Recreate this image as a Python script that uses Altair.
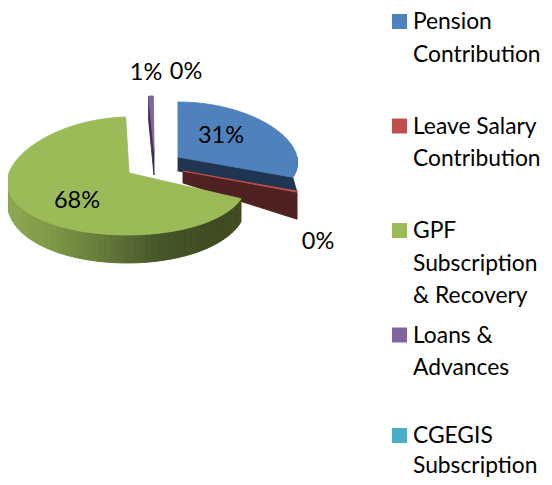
import math
import altair as alt
import pandas as pd

categories = ["Pension Contribution", "Leave Salary Contribution", "GPF Subscription & Recovery", "Loans & Advances", "CGEGIS Subscription"]
values = [31.0, 0.3, 67.9, 0.7, 0.1]
legend_lines = [["Pension", "Contribution"], ["Leave Salary", "Contribution"], ["GPF", "Subscription", "& Recovery"], ["Loans &", "Advances"], ["CGEGIS", "Subscription"]]
top_colors = ["#4F81BD", "#C0504D", "#9BBB59", "#8064A2", "#4BACC6"]
dark_colors = ["#1F3552", "#4F2120", "#3D4A20", "#3A2D4D", "#1F5563"]
wall_ramp = ["#3F4C20", "#3F4C20", "#46552A", "#657C3A", "#7F9A48", "#8AA650", "#8CA853"]

W, H = 536, 469
OFF = 8
K = 0.1
centers = [(178, 157), (183, 171), (127, 176), (154, 151), (179, 157)]
radii = [(119, 55), (119, 55), (119, 59), (119, 55), (119, 55)]
top_shift = [0, 0, 4, 0, 0]
apex_shift = [(0, 0), (0, 0), (2, -3), (0, 0), (0, 0)]
label_pos = [(221, 136), (318, 242), (77, 201), (146, 73), (186, 72)]
legend_row_y = [22, 126.5, 231, 335.5, 436]
legend_line_gap = [32.5, 32.5, 32.5, 32.5, 30]


def rim(i, deg, drop=0.0):
    cx, cy = centers[i]
    rx, ry = radii[i]
    t = math.radians(deg)
    f = 1 - K * math.cos(t)
    return [cx + rx * math.sin(t) * f + top_shift[i] * max(0.0, math.cos(t)) - OFF,
            cy - ry * math.cos(t) + drop - OFF]


def apex(i, drop=0.0):
    return [centers[i][0] + apex_shift[i][0] - OFF, centers[i][1] + apex_shift[i][1] + drop - OFF]


def feature(points, color):
    return {"type": "Feature", "properties": {"c": color},
            "geometry": {"type": "Polygon", "coordinates": [points + [points[0]]]}}


def lerp_hex(a, b, f):
    pa = [int(a[j:j + 2], 16) for j in (1, 3, 5)]
    pb = [int(b[j:j + 2], 16) for j in (1, 3, 5)]
    return "#" + "".join(f"{round(x + (y - x) * f):02X}" for x, y in zip(pa, pb))


angles = [0.0]
for v in values:
    angles.append(angles[-1] + v * 3.6)
starts = dict(enumerate(angles[:-1]))
ends = dict(enumerate(angles[1:]))


def arc(i, n=80):
    a, b = starts[i], ends[i]
    return [rim(i, a + (b - a) * k / n) for k in range(n + 1)]


features = []
features.append(feature([apex(4)] + arc(4, 4), top_colors[4]))
e = ends[0]
blue_wall = [apex(0), apex(0, 14)]
blue_wall += [[rim(0, e)[0] + 4, rim(0, e)[1] + 14]]
blue_wall += [rim(0, e - 3 * k) for k in range(0, 8)]
features.append(feature(blue_wall, dark_colors[0]))
features.append(feature([apex(0)] + arc(0), top_colors[0]))
s1, e1 = starts[1], ends[1]
features.append(feature([apex(1), rim(1, e1), rim(1, e1, 27), apex(1, 12)], dark_colors[1]))
features.append(feature([apex(1)] + arc(1, 3), top_colors[1]))
s3, e3 = starts[3], ends[3]
features.append(feature([rim(3, s3), rim(3, s3, 24), apex(3, 24), apex(3)], dark_colors[3]))
features.append(feature([apex(3)] + arc(3, 4), top_colors[3]))
s2, e2 = starts[2], ends[2]
a0, a1 = s2, 268.0
N = 60
for k in range(N):
    t0 = a0 + (a1 - a0) * k / N
    t1 = a0 + (a1 - a0) * (k + 1) / N
    d0 = 20 + 8 * max(0, -math.cos(math.radians(t0)))
    d1 = 20 + 8 * max(0, -math.cos(math.radians(t1)))
    pos = k / N * (len(wall_ramp) - 1)
    j = min(int(pos), len(wall_ramp) - 2)
    col = lerp_hex(wall_ramp[j], wall_ramp[j + 1], pos - j)
    features.append(feature([rim(2, t0), rim(2, t1), rim(2, t1, d1), rim(2, t0, d0)], col))
features.append(feature([apex(2)] + arc(2, 160), top_colors[2]))

pie = alt.Chart(alt.Data(values=features)).mark_geoshape(strokeWidth=0.9).encode(
    color=alt.Color("properties.c:N", scale=None),
    stroke=alt.Color("properties.c:N", scale=None),
).project(type="identity", scale=1, translate=[0, 0])

x_s = alt.Scale(domain=[0, W], range=[0, W])
y_s = alt.Scale(domain=[0, H], range=[0, H])
X = lambda f: alt.X(f, scale=x_s, axis=None)
Y = lambda f: alt.Y(f, scale=y_s, axis=None)

FONT = "Lato"

lab = pd.DataFrame({
    "t": [f"{round(v)}%" for v in values],
    "x": [p[0] - OFF for p in label_pos],
    "y": [p[1] - OFF for p in label_pos],
})
labels = alt.Chart(lab).mark_text(font=FONT, fontSize=23.5, color="#000000", align="center", baseline="middle").encode(
    x=X("x:Q"), y=Y("y:Q"), text="t:N")

sw = pd.DataFrame({
    "c": top_colors,
    "x": [399.5 - OFF] * 5,
    "y": [ry - 0.5 - OFF for ry in legend_row_y],
})
swatches = alt.Chart(sw).mark_square(size=225, opacity=1).encode(
    x=X("x:Q"), y=Y("y:Q"), color=alt.Color("c:N", scale=None))

rows = []
for i, lines in enumerate(legend_lines):
    for j, ln in enumerate(lines):
        rows.append({"t": ln, "x": 413 - OFF, "y": legend_row_y[i] + legend_line_gap[i] * j - OFF})
leg = alt.Chart(pd.DataFrame(rows)).mark_text(font=FONT, fontSize=22.8, color="#000000", align="left", baseline="middle").encode(
    x=X("x:Q"), y=Y("y:Q"), text="t:N")

chart = alt.layer(pie, labels, swatches, leg).resolve_scale(color="independent").properties(
    width=W, height=H, padding=0, autosize=alt.AutoSizeParams(type="none")
).configure_view(stroke=None)

chart.save("out.html", embed_options={"renderer": "svg", "actions": False})
